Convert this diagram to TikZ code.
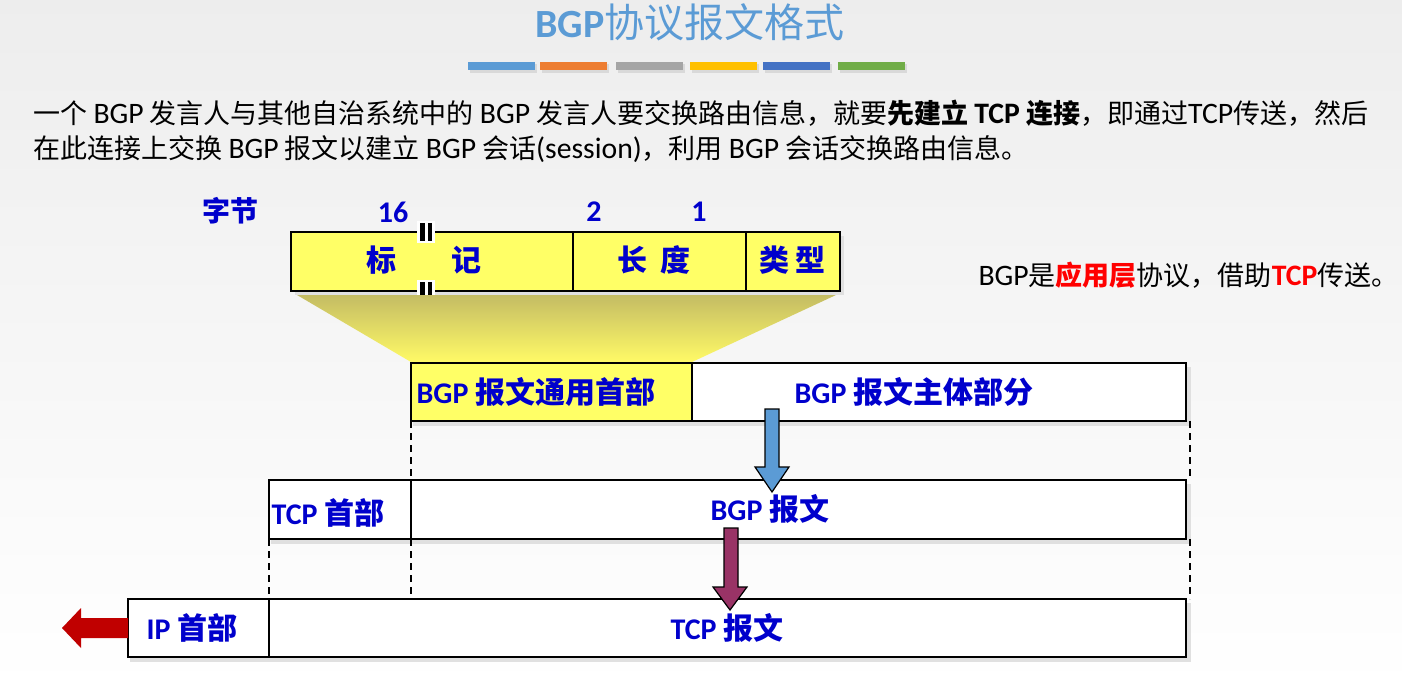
\documentclass[tikz,border=0pt]{standalone}
\usepackage{fontspec}
\setmainfont{Noto Sans CJK SC}
\newfontfamily\latin{Carlito}
\newfontfamily\latinp[Scale=1.1]{Carlito}
\newcommand\en[1]{{\latin #1}}
\newcommand\enp[1]{{\latinp #1}}
\usetikzlibrary{positioning,calc}
\definecolor{azulclaro}{HTML}{5B9BD5}
\definecolor{naranja}{HTML}{ED7D31}
\definecolor{gris}{HTML}{A5A5A5}
\definecolor{oro}{HTML}{FFC000}
\definecolor{azul}{HTML}{4472C4}
\definecolor{verde}{HTML}{70AD47}
\definecolor{tinta}{HTML}{0000CC}
\definecolor{amarillo}{HTML}{FFFF66}
\definecolor{morado}{HTML}{993366}
\definecolor{granate}{HTML}{C00000}
\definecolor{rojo}{HTML}{FF0000}

\begin{document}
\begin{tikzpicture}[x=1pt, y=-1pt,
  celda/.style={draw, line width=1.4pt, anchor=north west, inner sep=0pt, outer sep=0pt},
  etiqueta/.style={tinta, font=\fontsize{30}{30}\selectfont\bfseries},
  corte/.style={dash pattern=on 7pt off 5pt, line width=1.2pt}]
        \useasboundingbox (0,0) rectangle (1402,690);
        \shade[top color=black!7, bottom color=white] (0,0) rectangle (1402,690);
        % titulo y barras de colores
        \node[azulclaro, font=\fontsize{40}{40}\selectfont] (titulo) at (690,22) {\en{\bfseries BGP}协议报文格式};
        \foreach \x/\c in {468/azulclaro, 540/naranja, 616/gris, 690/oro, 763/azul, 838/verde} {
          \fill[black!15] (\x+2,64) rectangle (\x+69,73);
          \fill[color=\c] (\x,62) rectangle (\x+67,70);
        }
        \node[anchor=west, font=\fontsize{27}{27}\selectfont] (linea1) at (30,113) {一个 \enp{BGP} 发言人与其他自治系统中的 \enp{BGP} 发言人要交换路由信息，就要{\bfseries 先建立 \enp{TCP} 连接}，即通过\enp{TCP}传送，然后};
        \node[anchor=west, font=\fontsize{27}{27}\selectfont] (linea2) at (30,149) {在此连接上交换 \enp{BGP} 报文以建立 \enp{BGP} 会话\enp{(session)}，利用 \enp{BGP} 会话交换路由信息。};
        \node[anchor=west, font=\fontsize{27}{27}\selectfont] (nota) at (975,275) {\enp{BGP}是{\color{rojo}\bfseries 应用层}协议，借助{\color{rojo}\bfseries\enp{TCP}}传送。};
        % cabecera de 19 bytes
        \node[etiqueta, font=\fontsize{28}{28}\selectfont\bfseries] (bytes) at (230,211) {字节};
        \node[etiqueta] (n16) at (393,212) {\en{16}};
        \node[etiqueta] (n2) at (594,212) {\en{2}};
        \node[etiqueta] (n1) at (699,212) {\en{1}};
        \fill[black!12] (295,236) rectangle (844,295);
        \node[celda, fill=amarillo, minimum width=282pt, minimum height=59pt] (marcador) at (291,232) {};
        \node[celda, fill=amarillo, minimum width=173pt, minimum height=59pt] (longitud) at (573,232) {};
        \node[celda, fill=amarillo, minimum width=94pt, minimum height=59pt] (tipo) at (746,232) {};
        \node[etiqueta] (tmarcador) at (424,260) {标\hspace{55pt}记};
        \node[etiqueta] (tlongitud) at (654,260) {长\hspace{14pt}度};
        \node[etiqueta] (ttipo) at (792,260) {类\hspace{6pt}型};
        \foreach \y in {232,291} {
          \fill[white] (417,\y-11) rectangle (435,\y+11);
          \fill (420,\y-9) rectangle (425,\y+9);
          \fill (428,\y-9) rectangle (432,\y+9);
        }
        \shade[top color={rgb,255:red,196;green,188;blue,100}, middle color={rgb,255:red,236;green,230;blue,104}, bottom color={rgb,255:red,255;green,250;blue,102}] (297,295) -- (836,295) -- (692,362) -- (411,362) -- cycle;
        % tres niveles de encapsulado
        \foreach \xa/\ya/\xb/\yb in {411/363/1186/421, 269/480/1186/539, 128/599/1186/657} {
          \fill[black!12] (\xa+2,\ya+4) rectangle (\xb+5,\yb+5);
        }
        \node[celda, fill=amarillo, minimum width=281pt, minimum height=58pt] (bgphdr) at (411,363) {};
        \node[celda, fill=white, minimum width=494pt, minimum height=58pt] (bgpbody) at (692,363) {};
        \node[celda, fill=white, minimum width=142pt, minimum height=59pt] (tcphdr) at (269,480) {};
        \node[celda, fill=white, minimum width=775pt, minimum height=59pt] (bgpmsg) at (411,480) {};
        \node[celda, fill=white, minimum width=141pt, minimum height=58pt] (iphdr) at (128,599) {};
        \node[celda, fill=white, minimum width=917pt, minimum height=58pt] (tcpmsg) at (269,599) {};
        \node[etiqueta] (tbgphdr) at (536,392) {\en{BGP} 报文通用首部};
        \node[etiqueta] (tbgpbody) at (914,392) {\en{BGP} 报文主体部分};
        \node[etiqueta] (ttcphdr) at (328,513) {\en{TCP} 首部};
        \node[etiqueta] (tbgpmsg) at (770,509) {\en{BGP} 报文};
        \node[etiqueta] (tiphdr) at (192,628) {\en{IP} 首部};
        \node[etiqueta] (ttcpmsg) at (727,628) {\en{TCP} 报文};
        \draw[corte] (bgphdr.south west) -- (bgpmsg.north west);
        \draw[corte] ([xshift=4pt]bgpbody.south east) -- ([xshift=4pt]bgpmsg.north east);
        \draw[corte] (tcphdr.south west) -- (iphdr.north east);
        \draw[corte] (bgpmsg.south west) -- (bgpmsg.south west |- tcpmsg.north);
        \draw[corte] ([xshift=4pt]bgpmsg.south east) -- ([xshift=4pt]tcpmsg.north east);
        % flechas de bloque
        \filldraw[fill=azulclaro, line width=1.2pt] (765,409) -- (779,409) -- (779,467) -- (789,467) -- (772,492) -- (755,467) -- (765,467) -- cycle;
        \filldraw[fill=morado, line width=1.2pt] (724,528) -- (738,528) -- (738,587) -- (747,587) -- (730,610) -- (713,587) -- (724,587) -- cycle;
        \fill[granate] (iphdr.west |- 0,618) -- (81,618) -- (81,608) -- (62,628) -- (81,648) -- (81,638) -- (iphdr.west |- 0,638) -- cycle;
      \end{tikzpicture}
\end{document}
